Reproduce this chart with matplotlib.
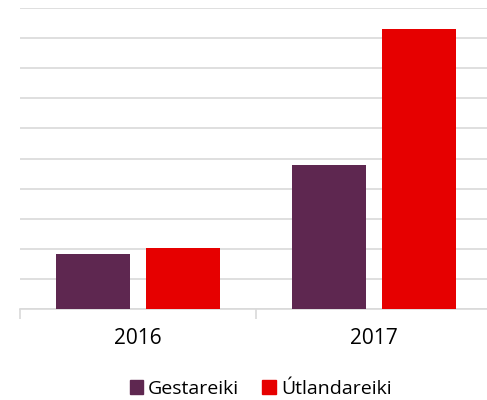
import numpy as np
import matplotlib.pyplot as plt
from matplotlib.patches import Patch

years = ['2016', '2017']
gestareiki = [1.83, 4.8]
utlandareiki = [2.03, 9.3]

purple = '#5E2750'
red = '#E60000'

plt.rcParams['font.family'] = ['Open Sans', 'DejaVu Sans']

fig = plt.figure(figsize=(4.87, 4.0), dpi=100)
ax = fig.add_axes([20 / 487, 91 / 400, 472 / 487, 301 / 400])

x = np.arange(len(years))
w = 0.313
ax.bar(x - 0.19, gestareiki, width=w, color=purple, label='Gestareiki', zorder=3)
ax.bar(x + 0.19, utlandareiki, width=w, color=red, label='Útlandareiki', zorder=3)

ax.set_xlim(-0.5, 1.5)
ax.set_ylim(0, 10)
ax.set_yticks(np.arange(0, 11, 1))
ax.set_yticklabels([])
ax.tick_params(axis='y', length=0)
ax.grid(axis='y', color='#d9d9d9', linewidth=1.2, zorder=0)

ax.set_xticks(x)
ax.set_xticklabels(years, fontsize=15)
ax.set_xticks([-0.5, 0.5, 1.5], minor=True)
ax.tick_params(axis='x', which='major', length=0, pad=14)
ax.tick_params(axis='x', which='minor', length=7, color='#d9d9d9', width=1.2)

for s in ['top', 'right', 'left']:
    ax.spines[s].set_visible(False)
ax.spines['bottom'].set_color('#d9d9d9')
ax.spines['bottom'].set_linewidth(1.2)

handles = [Patch(color=purple, label='Gestareiki'), Patch(color=red, label='Útlandareiki')]
fig.legend(handles=handles, loc='center', bbox_to_anchor=(0.535, 0.028), ncol=2,
           frameon=False, fontsize=14, handlelength=0.7, handleheight=0.7,
           handletextpad=0.25, columnspacing=1.2)

fig.savefig('out.png', dpi=100)
